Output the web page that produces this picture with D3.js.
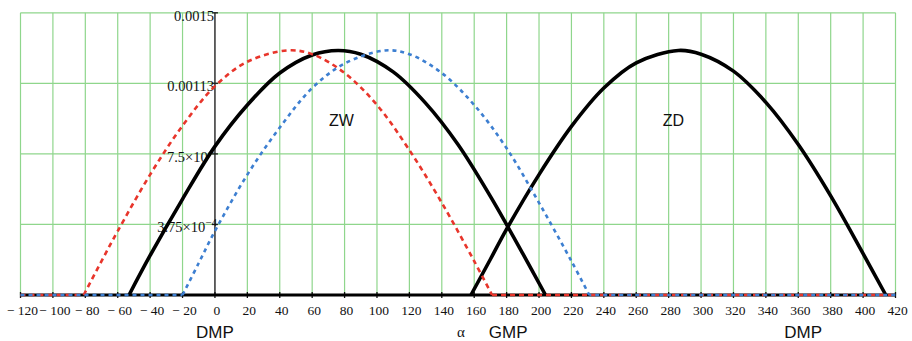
<!DOCTYPE html>
<html>
<head>
<meta charset="utf-8">
<script src="https://cdn.jsdelivr.net/npm/d3@7"></script>
<style>
  html, body { margin: 0; padding: 0; background: #fff; }
  svg { display: block; }
</style>
</head>
<body>
<svg id="chart" width="912" height="341"></svg>
<script>
// ---- data ----
const xTicks = [-120,-100,-80,-60,-40,-20,0,20,40,60,80,100,120,140,160,180,200,220,240,260,280,300,320,340,360,380,400,420];
const yTicks = [0.000375, 0.00075, 0.001125, 0.0015];
const yTickLabels = [["3.75×10", "−4"], ["7.5×10", "−"], ["0.00113", ""], ["0.0015", ""]];

// ZW (black solid)
const zwX = [-53, -40, -20, 0, 20, 40, 60, 76, 90, 110, 130, 150, 170, 190, 204];
const zwY = [0, 0.00021, 0.00051, 0.00079, 0.00101, 0.00118, 0.001276, 0.0013, 0.00128, 0.001186, 0.00102, 0.0008, 0.000524, 0.00022, 0];
// ZD (black solid)
const zdX = [158, 170, 180, 200, 220, 240, 260, 286, 300, 320, 340, 360, 380, 400, 414];
const zdY = [0, 0.00019, 0.00035, 0.00064, 0.000896, 0.0011, 0.001234, 0.0013, 0.00128, 0.00119, 0.001024, 0.0008, 0.000527, 0.00022, 0];
// red dashed
const redX = [-81, -70, -60, -40, -20, 0, 20, 45, 60, 80, 100, 120, 140, 160, 171];
const redY = [0, 0.00018, 0.00034, 0.00064, 0.00090, 0.00111, 0.00124, 0.0013, 0.00128, 0.00118, 0.00101, 0.00077, 0.00049, 0.00018, 0];
// blue dotted
const blueX = [-20, -10, 0, 20, 40, 60, 80, 105, 120, 140, 160, 180, 200, 220, 231];
const blueY = [0, 0.00017, 0.00034, 0.00064, 0.00089, 0.00110, 0.00123, 0.0013, 0.00128, 0.00118, 0.00101, 0.00078, 0.00049, 0.00018, 0];

const curveLabels = [{t: "ZW", x: 78}, {t: "ZD", x: 283}];
const bottomLabels = [{t: "DMP", x: 0}, {t: "GMP", x: 181}, {t: "DMP", x: 363}];

// ---- drawing ----
const svg = d3.select("#chart");
const x = d3.scaleLinear().domain([-120, 420]).range([20.5, 895.5]);
const y = d3.scaleLinear().domain([0, 0.0015]).range([295, 12.8]);

const grid = svg.append("g");
grid.selectAll("line.v").data(xTicks.filter(d => d !== 0)).join("line")
  .attr("x1", d => x(d)).attr("x2", d => x(d))
  .attr("y1", y(0.0015)).attr("y2", y(0))
  .attr("stroke", "#8fd68c").attr("stroke-width", 1.2);
grid.selectAll("line.h").data(yTicks).join("line")
  .attr("x1", x(-120)).attr("x2", x(420))
  .attr("y1", d => y(d)).attr("y2", d => y(d))
  .attr("stroke", "#8fd68c").attr("stroke-width", 1.2);

svg.append("line").attr("x1", x(0)).attr("x2", x(0))
  .attr("y1", y(0.0015)).attr("y2", y(0))
  .attr("stroke", "#222").attr("stroke-width", 1.4);
svg.selectAll("line.yt").data(yTicks).join("line")
  .attr("x1", x(0) - 3).attr("x2", x(0) + 3)
  .attr("y1", d => y(d)).attr("y2", d => y(d))
  .attr("stroke", "#222").attr("stroke-width", 1.4);

const yl = svg.selectAll("text.yl").data(yTicks).join("text")
  .attr("x", (d, i) => i === 0 ? x(0) + 2 : x(0) - 1)
  .attr("y", d => y(d) + 8)
  .attr("text-anchor", "end")
  .attr("font-family", "Liberation Serif, Times New Roman, serif")
  .attr("font-size", 14.5)
  .attr("fill", "#111");
yl.each(function(d, i) {
  const t = d3.select(this);
  t.append("tspan").text(yTickLabels[i][0]);
  if (yTickLabels[i][1]) t.append("tspan").attr("dy", -6).attr("font-size", 11).text(yTickLabels[i][1]);
});

svg.selectAll("line.xt").data(xTicks).join("line")
  .attr("x1", d => x(d)).attr("x2", d => x(d))
  .attr("y1", y(0) - 3).attr("y2", y(0) + 3)
  .attr("stroke", "#111").attr("stroke-width", 1.3);

svg.selectAll("text.xl").data(xTicks).join("text")
  .attr("x", d => x(d) + 2)
  .attr("y", 315)
  .attr("text-anchor", "middle")
  .attr("font-family", "Liberation Serif, Times New Roman, serif")
  .attr("font-size", 13.5)
  .attr("fill", "#111")
  .text(d => d < 0 ? "− " + Math.abs(d) : String(d));

svg.append("line").attr("x1", x(-120)).attr("x2", x(420))
  .attr("y1", y(0)).attr("y2", y(0))
  .attr("stroke", "#000").attr("stroke-width", 3.2);

const line = d3.line().x(d => x(d[0])).y(d => y(d[1])).curve(d3.curveCatmullRom.alpha(0.5));
const straight = d3.line().x(d => x(d[0])).y(d => y(d[1]));
const zip = (a, b) => a.map((v, i) => [v, b[i]]);

[zip(zwX, zwY), zip(zdX, zdY)].forEach(pts => {
  svg.append("path").attr("d", line(pts)).attr("fill", "none")
    .attr("stroke", "#000").attr("stroke-width", 3.6).attr("stroke-linejoin", "round");
});

function dashed(xs, ys, color, dash, offset) {
  svg.append("path").attr("d", straight([[-120, 0], [xs[0], 0]]))
    .attr("fill", "none").attr("stroke", color).attr("stroke-width", 2.6).attr("stroke-dasharray", dash);
  svg.append("path").attr("d", straight([[xs[xs.length - 1], 0], [420, 0]]))
    .attr("fill", "none").attr("stroke", color).attr("stroke-width", 2.6).attr("stroke-dasharray", dash).attr("stroke-dashoffset", offset);
  svg.append("path").attr("d", line(zip(xs, ys))).attr("fill", "none")
    .attr("stroke", color).attr("stroke-width", 2.6).attr("stroke-dasharray", dash);
}
dashed(redX, redY, "#e8352b", "5,4", 0);
dashed(blueX, blueY, "#3d7fd1", "4,4", 2);

svg.selectAll("text.cl").data(curveLabels).join("text")
  .attr("x", d => x(d.x)).attr("y", 126)
  .attr("text-anchor", "middle")
  .attr("font-family", "Liberation Sans, Arial, sans-serif")
  .attr("font-size", 16).attr("fill", "#111")
  .text(d => d.t);

svg.selectAll("text.bl").data(bottomLabels).join("text")
  .attr("x", d => x(d.x)).attr("y", 338)
  .attr("text-anchor", "middle")
  .attr("font-family", "Liberation Sans, Arial, sans-serif")
  .attr("font-size", 17).attr("fill", "#111")
  .text(d => d.t);

svg.append("text").attr("x", 461).attr("y", 337)
  .attr("text-anchor", "middle")
  .attr("font-family", "Liberation Serif, Times New Roman, serif")
  .attr("font-size", 15).attr("fill", "#111")
  .text("α");
</script>
</body>
</html>
